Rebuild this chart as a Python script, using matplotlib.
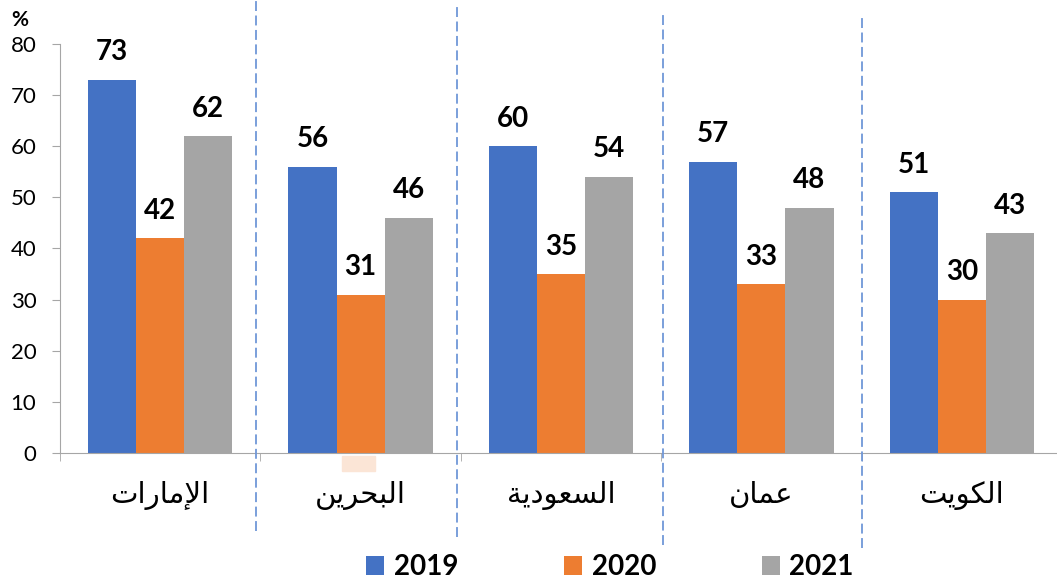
import matplotlib
matplotlib.use("Agg")
import matplotlib.pyplot as plt
import numpy as np
from matplotlib.patches import Rectangle

plt.rcParams['font.family'] = ['Lato', 'DejaVu Sans']

# data
categories = ['الإمارات', 'البحرين', 'السعودية', 'عمان', 'الكويت']
years = ['2019', '2020', '2021']
v2019 = [73, 56, 60, 57, 51]
v2020 = [42, 31, 35, 33, 30]
v2021 = [62, 46, 54, 48, 43]

colors = ['#4472C4', '#ED7D31', '#A5A5A5']

# simple arabic shaping (matplotlib has no bidi / joining support)
FORMS = {  # isolated, final, initial, medial
    'ا': ('\uFE8D', '\uFE8E', None, None),
    'إ': ('\uFE87', '\uFE88', None, None),
    'ة': ('\uFE93', '\uFE94', None, None),
    'د': ('\uFEA9', '\uFEAA', None, None),
    'ر': ('\uFEAD', '\uFEAE', None, None),
    'و': ('\uFEED', '\uFEEE', None, None),
    'ب': ('\uFE8F', '\uFE90', '\uFE91', '\uFE92'),
    'ت': ('\uFE95', '\uFE96', '\uFE97', '\uFE98'),
    'ح': ('\uFEA1', '\uFEA2', '\uFEA3', '\uFEA4'),
    'س': ('\uFEB1', '\uFEB2', '\uFEB3', '\uFEB4'),
    'ع': ('\uFEC9', '\uFECA', '\uFECB', '\uFECC'),
    'ك': ('\uFED9', '\uFEDA', '\uFEDB', '\uFEDC'),
    'ل': ('\uFEDD', '\uFEDE', '\uFEDF', '\uFEE0'),
    'م': ('\uFEE1', '\uFEE2', '\uFEE3', '\uFEE4'),
    'ن': ('\uFEE5', '\uFEE6', '\uFEE7', '\uFEE8'),
    'ي': ('\uFEF1', '\uFEF2', '\uFEF3', '\uFEF4'),
}
LAM_ALEF = {'ا': ('\uFEFB', '\uFEFC'), 'إ': ('\uFEF9', '\uFEFA')}


def shape(word):
    out = []
    i = 0
    prev_joins = False
    while i < len(word):
        ch = word[i]
        if ch == 'ل' and i + 1 < len(word) and word[i + 1] in LAM_ALEF:
            iso, fin = LAM_ALEF[word[i + 1]]
            out.append(fin if prev_joins else iso)
            prev_joins = False
            i += 2
            continue
        iso, fin, ini, med = FORMS[ch]
        dual = ini is not None
        next_ok = dual and i + 1 < len(word) and word[i + 1] in FORMS
        if prev_joins and next_ok:
            out.append(med)
        elif prev_joins:
            out.append(fin)
        elif next_ok:
            out.append(ini)
        else:
            out.append(iso)
        prev_joins = next_ok
        i += 1
    return ''.join(out)[::-1]


W, H = 1057, 580
fig = plt.figure(figsize=(W / 100, H / 100), dpi=100)
ax = fig.add_axes([60 / W, (H - 453) / H, 1002 / W, (453 - 44) / H])

x = np.arange(len(categories))
bw = 0.24
for k, (vals, c) in enumerate(zip([v2019, v2020, v2021], colors)):
    bars = ax.bar(x + (k - 1) * bw, vals, bw, color=c, label=years[k], zorder=2)
    for b, v in zip(bars, vals):
        ax.annotate(str(v), (b.get_x() + b.get_width() / 2, v),
                    xytext=(0, 14), textcoords='offset points',
                    ha='center', va='baseline', fontsize=20, fontweight='bold')

ax.set_xlim(-0.5, 4.5)
ax.set_ylim(0, 80)
ax.set_yticks(range(0, 81, 10))
ax.tick_params(axis='y', labelsize=16, length=6, color='#A6A6A6', pad=11)

ax.set_xticks(x)
ax.set_xticklabels([shape(c) for c in categories], fontsize=21)
ax.set_xticks(np.arange(-0.5, 4.6, 1), minor=True)
ax.tick_params(axis='x', which='major', length=0, pad=20)
ax.tick_params(axis='x', which='minor', length=6, color='#A6A6A6')

for s in ['top', 'right']:
    ax.spines[s].set_visible(False)
for s in ['left', 'bottom']:
    ax.spines[s].set_color('#A6A6A6')

# dashed separators between the countries
sep_x = [0.48, 1.48, 2.51, 3.5]
sep_top = [88.6, 87.2, 85.6, 85.0]
sep_bot = [-15.3, -16.4, -18.0, -18.6]
for sx, t, b in zip(sep_x, sep_top, sep_bot):
    ax.plot([sx, sx], [b, t], color='#7097D8', lw=1.3,
            linestyle=(0, (5.5, 2.5)), clip_on=False, zorder=3)

fig.text(20 / W, 1 - 20 / H, '%', ha='center', va='center',
         fontsize=15, fontweight='bold')

fig.patches.append(Rectangle((342 / W, 1 - 471 / H), 33 / W, 15 / H,
                             transform=fig.transFigure, color='#FBE5D6'))

fig.legend(loc='center', bbox_to_anchor=(610 / W, 1 - 567 / H), ncol=3,
           frameon=False, prop={'size': 20, 'weight': 'bold'},
           handlelength=0.65, handleheight=0.65, handletextpad=0.35,
           columnspacing=3.8)

fig.savefig('out.png', dpi=100)
